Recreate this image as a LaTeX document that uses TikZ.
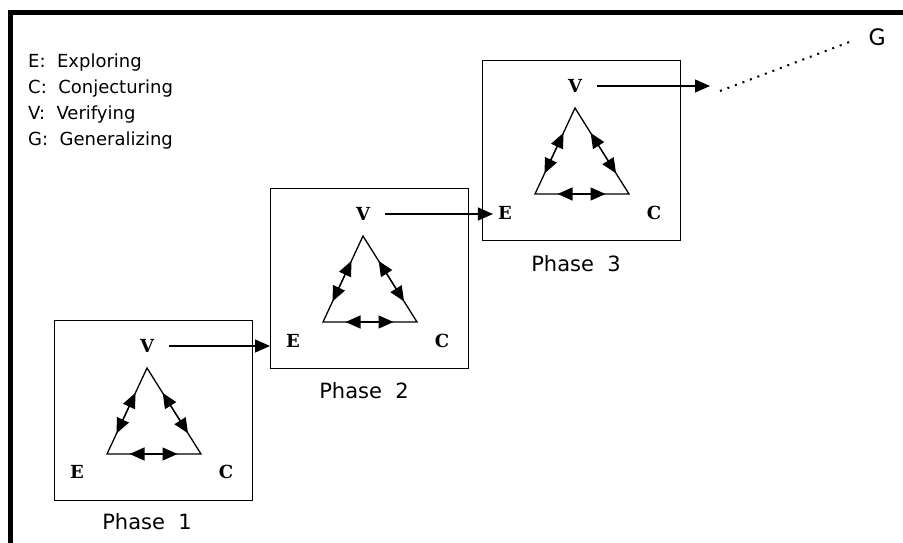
\documentclass[tikz,border=0pt]{standalone}
\usepackage{fontspec}
\setmainfont{DejaVu Sans}
\newfontfamily\stagefont{DejaVu Serif}
\newfontfamily\genfont{Carlito}
\usetikzlibrary{calc,arrows.meta}
\tikzset{>={Triangle[length=15pt,width=13pt]}}
\tikzset{
  phasebox/.style={draw,line width=1pt,minimum width=198pt,minimum height=180pt,anchor=north west,inner sep=0pt},
  stage/.style={font=\stagefont\bfseries\fontsize{18}{18}\selectfont,inner sep=1pt},
  phaselabel/.style={font=\fontsize{21}{24}\selectfont},
  legend/.style={font=\fontsize{18}{20}\selectfont,anchor=base west,inner sep=0pt},
  tri/.style={line width=1.3pt},
  link/.style={line width=1.2pt,->}
}

\begin{document}
\begin{tikzpicture}[x=1pt,y=-1pt]
  \useasboundingbox (0,0) rectangle (903,543);
  \draw[line width=5pt](10.5,543)--(10.5,12.5)--(903,12.5);
  % legend
  \node[legend] at (28,67)  (le) {E:\ \ Exploring};
  \node[legend] at (28,93)  (lc) {C:\ \ Conjecturing};
  \node[legend] at (28,119) (lv) {V:\ \ Verifying};
  \node[legend] at (28,145) (lg) {G:\ \ Generalizing};

  % phase 1
  \node[phasebox] at (54,320) (box1) {};
  \node[stage] at (147,346) (v1) {V};
  \node[stage] at (77,472)  (e1) {E};
  \node[stage] at (226,472) (c1) {C};
  \coordinate (t1) at (147,368);
  \coordinate (l1) at (107,454);
  \coordinate (r1) at (201,454);
  \draw[tri](t1)--(l1)--(r1)--cycle;
  \draw[tri,<->]($(t1)!0.29!(l1)$)--($(t1)!0.76!(l1)$);
  \draw[tri,<->]($(t1)!0.29!(r1)$)--($(t1)!0.76!(r1)$);
  \draw[tri,<->]($(l1)!0.24!(r1)$)--($(l1)!0.75!(r1)$);
  \node[phaselabel] at (147,522) (p1) {Phase\ \ 1};

  % phase 2
  \node[phasebox] at (270,188) (box2) {};
  \node[stage] at (363,214) (v2) {V};
  \node[stage] at (293,341) (e2) {E};
  \node[stage] at (442,341) (c2) {C};
  \coordinate (t2) at (363,236);
  \coordinate (l2) at (323,322);
  \coordinate (r2) at (417,322);
  \draw[tri](t2)--(l2)--(r2)--cycle;
  \draw[tri,<->]($(t2)!0.29!(l2)$)--($(t2)!0.76!(l2)$);
  \draw[tri,<->]($(t2)!0.29!(r2)$)--($(t2)!0.76!(r2)$);
  \draw[tri,<->]($(l2)!0.24!(r2)$)--($(l2)!0.75!(r2)$);
  \node[phaselabel] at (364,391) (p2) {Phase\ \ 2};

  % phase 3
  \node[phasebox] at (482,60) (box3) {};
  \node[stage] at (575,86)  (v3) {V};
  \node[stage] at (505,213) (e3) {E};
  \node[stage] at (654,213) (c3) {C};
  \coordinate (t3) at (575,108);
  \coordinate (l3) at (535,194);
  \coordinate (r3) at (629,194);
  \draw[tri](t3)--(l3)--(r3)--cycle;
  \draw[tri,<->]($(t3)!0.29!(l3)$)--($(t3)!0.76!(l3)$);
  \draw[tri,<->]($(t3)!0.29!(r3)$)--($(t3)!0.76!(r3)$);
  \draw[tri,<->]($(l3)!0.24!(r3)$)--($(l3)!0.75!(r3)$);
  \node[phaselabel] at (576,264) (p3) {Phase\ \ 3};

  % links between phases
  \draw[link]([xshift=14pt]v1.east)--(v1.east -| box2.west);
  \draw[link]([xshift=14pt]v2.east)--([xshift=-4pt]v2.east -| e3.west);
  \coordinate (tip3) at (710,91);
  \draw[link]([xshift=14pt]v3.east)--(v3.east -| tip3);

  % towards generalizing
  \node[font=\genfont\fontsize{26}{26}\selectfont] at (877,37) (g) {G};
  \coordinate (dot1) at (720,91);
  \coordinate (dot2) at (852,41);
  \draw[line width=2pt,dash pattern=on 2pt off 6pt](dot1)--(dot2);
\end{tikzpicture}
\end{document}
